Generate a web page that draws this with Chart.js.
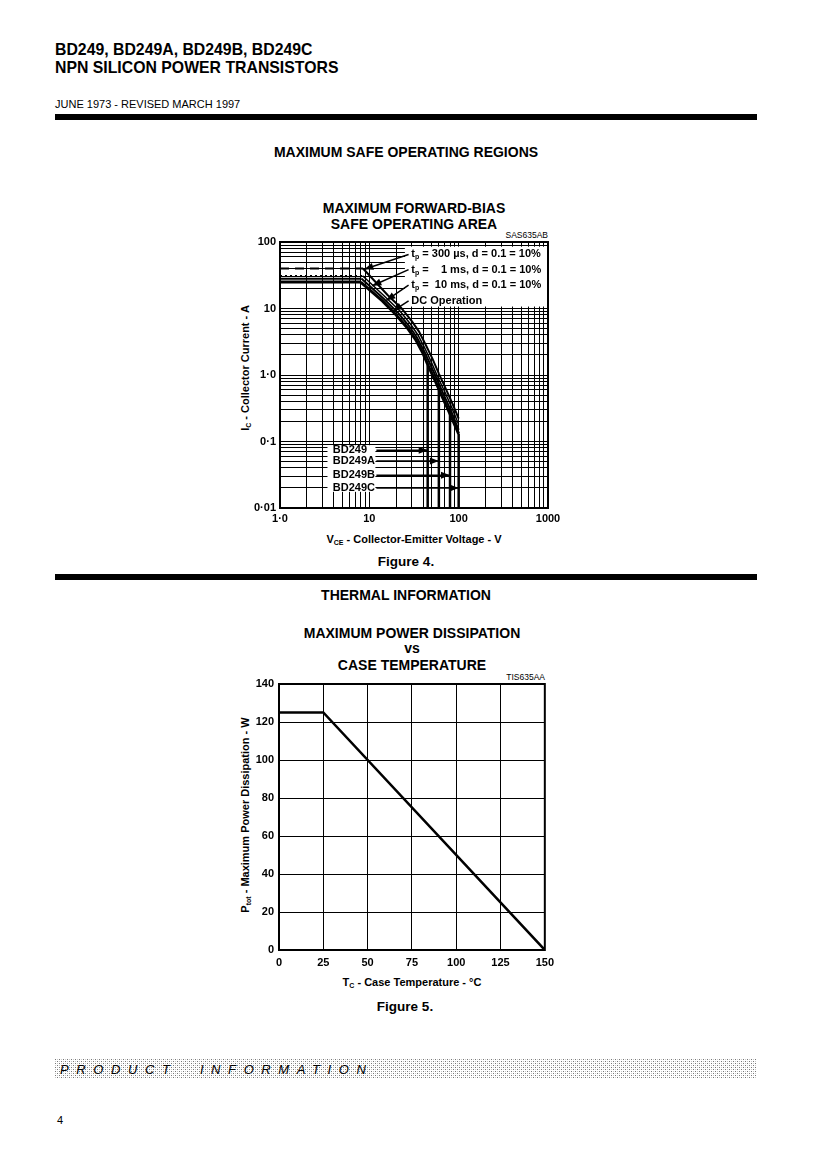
<!DOCTYPE html>
<html>
<head>
<meta charset="utf-8">
<title>BD249 - safe operating area and power dissipation</title>
<script src="https://cdn.jsdelivr.net/npm/chart.js@4.4.0/dist/chart.umd.min.js"></script>
<style>
  body { margin: 0; background: #fff; }
  #page { position: relative; width: 825px; height: 1168px; overflow: hidden;
          font-family: "Liberation Sans", Arial, Helvetica, sans-serif; color: #000; }
  .t { position: absolute; white-space: nowrap; line-height: 1; }
  .b { font-weight: bold; }
  .c { transform: translateX(-50%); }
  .r { transform: translateX(-100%); }
  .head { font-weight: bold; font-size: 17px; left: 55px; transform: scaleX(0.93); transform-origin: 0 0; }
  .bar { position: absolute; left: 55px; width: 702px; height: 6px; background: #000; }
  .yt { transform: translate(-50%, -50%) rotate(-90deg); font-weight: bold; font-size: 11px; }
  sub { font-size: 7px; vertical-align: -2px; line-height: 0; }
  canvas { position: absolute; }
  #prod { position: absolute; left: 55px; top: 1059px; width: 702px; height: 19px;
          background-image: url("data:image/svg+xml,%3Csvg xmlns='http://www.w3.org/2000/svg' width='4' height='4'%3E%3Crect width='1' height='1' fill='%23777'/%3E%3Crect x='2' y='2' width='1' height='1' fill='%23777'/%3E%3Crect x='2' width='1' height='1' fill='%23c8c8c8'/%3E%3Crect y='2' width='1' height='1' fill='%23c8c8c8'/%3E%3C/svg%3E"); }
  #prod span { position: absolute; left: 5px; top: 4px; font-style: italic; font-size: 13px;
               letter-spacing: 7.6px; white-space: pre; line-height: 1; }
</style>
</head>
<body>
<div id="page">
  <div class="t head" style="top:41px;">BD249, BD249A, BD249B, BD249C</div>
  <div class="t head" style="top:59px;">NPN SILICON POWER TRANSISTORS</div>
  <div class="t" style="left:55px;top:99px;font-size:11px;">JUNE 1973 - REVISED MARCH 1997</div>
  <div class="bar" style="top:114px;"></div>

  <div class="t b c" style="left:406px;top:145px;font-size:14px;">MAXIMUM SAFE OPERATING REGIONS</div>
  <div class="t b c" style="left:414px;top:201px;font-size:14px;">MAXIMUM FORWARD-BIAS</div>
  <div class="t b c" style="left:414px;top:217px;font-size:14px;">SAFE OPERATING AREA</div>
  <div class="t r" style="left:548px;top:231px;font-size:8.5px;">SAS635AB</div>
  <div class="t yt" style="left:245px;top:368px;">I<sub>C</sub> - Collector Current - A</div>
  <canvas id="soaChart" width="350" height="305" style="left:220px;top:225px;"></canvas>
  <div class="t b c" style="left:414px;top:534px;font-size:11px;">V<sub>CE</sub> - Collector-Emitter Voltage - V</div>
  <div class="t b c" style="left:406px;top:555px;font-size:13.5px;">Figure 4.</div>

  <div class="bar" style="top:574px;"></div>
  <div class="t b c" style="left:406px;top:588px;font-size:14px;">THERMAL INFORMATION</div>
  <div class="t b c" style="left:412px;top:626px;font-size:14px;">MAXIMUM POWER DISSIPATION</div>
  <div class="t b c" style="left:412px;top:641px;font-size:14px;">vs</div>
  <div class="t b c" style="left:412px;top:658px;font-size:14px;">CASE TEMPERATURE</div>
  <div class="t r" style="left:545px;top:673px;font-size:8.5px;">TIS635AA</div>
  <div class="t yt" style="left:245px;top:815px;">P<sub>tot</sub> - Maximum Power Dissipation - W</div>
  <canvas id="powerChart" width="340" height="300" style="left:220px;top:672px;"></canvas>
  <div class="t b c" style="left:412px;top:977px;font-size:11px;">T<sub>C</sub> - Case Temperature - °C</div>
  <div class="t b c" style="left:405px;top:1000px;font-size:13.5px;">Figure 5.</div>

  <div id="prod"><span>PRODUCT  INFORMATION</span></div>
  <div class="t" style="left:57px;top:1115px;font-size:11px;">4</div>
</div>

<script>
// ---- Figure 4: forward-bias safe operating area ----
var voltDecades = [1, 10, 100, 1000];
var voltTickLabels = ["1·0", "10", "100", "1000"];
var ampDecades = [0.01, 0.1, 1, 10, 100];
var ampTickLabels = ["0·01", "0·1", "1·0", "10", "100"];

var dcVolts = [1, 8, 14, 20, 27, 33, 40, 46, 55, 65, 80, 100];
var dcAmps = [25, 25, 13, 8, 5, 3.4, 2.1, 1.35, 0.8, 0.48, 0.26, 0.13];
var tp10msVolts = [1, 8.2, 14.5, 21, 28, 34, 41, 48, 57, 67, 82, 100];
var tp10msAmps = [28, 28, 14, 8.6, 5.4, 3.7, 2.3, 1.45, 0.87, 0.53, 0.29, 0.15];
var tp1msVolts = [1, 8.4, 15, 22, 29, 35, 42, 49, 58, 69, 84, 100];
var tp1msAmps = [31, 31, 15, 9.2, 5.8, 4.0, 2.5, 1.6, 0.95, 0.58, 0.32, 0.18];
var tp300usVolts = [1, 8.5, 16, 23, 30, 36, 43, 51, 60, 71, 86, 100];
var tp300usAmps = [40, 40, 16, 10, 6.4, 4.5, 2.8, 1.75, 1.05, 0.64, 0.36, 0.22];

// VCEO rating of each type: vertical limit from the DC curve down to the axis
var ratingNames = ["BD249", "BD249A", "BD249B", "BD249C"];
var ratingVolts = [45, 60, 80, 100];
var ratingTopAmps = [1.4, 0.62, 0.28, 0.13];
var ratingLabelAmps = [0.074, 0.051, 0.031, 0.020];

// curve labels and where their arrows point
var pulseTexts = [" = 300 µs, d = 0.1 = 10%", " =    1 ms, d = 0.1 = 10%", " =  10 ms, d = 0.1 = 10%", "DC Operation"];
var pulseLabelAmps = [65, 38.5, 22.5, 13];
var pulseArrowVolts = [8.8, 10.8, 15.5, 18.5];
var pulseArrowAmps = [39, 22, 13.2, 9.2];

// ---- Figure 5: power derating ----
var caseTemp = [0, 25, 150];
var powerMax = [125, 125, 0];

// label placement (in axis units) for the white boxes on figure 4
var pulseBoxVolts = [25, 1000];
var pulseBoxAmps = [85, 10.7];
var pulseTextVolt = 29.5;
var pulseArrowStartVolt = 27.5;
var ratingBoxVolts = [3.4, 12];
var ratingBoxAmps = [0.088, 0.0175];
var ratingTextVolt = 3.9;
var ratingArrowStartVolt = 12;

var fontFamily = '"Liberation Sans", Arial, Helvetica, sans-serif';
var tickFont = { family: fontFamily, size: 11, weight: 'bold' };

function points(xs, ys) {
  return xs.map(function (x, i) { return { x: x, y: ys[i] }; });
}

// every 1..9 line of each decade between lo and hi
function logGrid(lo, hi) {
  var vals = [];
  for (var d = lo; d < hi; d *= 10) {
    for (var k = 1; k < 10; k++) vals.push(+(d * k).toPrecision(3));
  }
  vals.push(hi);
  return vals;
}

function curve(xs, ys, width, flatDash) {
  return {
    data: points(xs, ys),
    borderColor: '#000',
    borderWidth: width,
    pointRadius: 0,
    fill: false,
    tension: 0,
    segment: {
      borderDash: function (c) {
        return c.p0.parsed.y === c.p1.parsed.y ? flatDash : undefined;
      }
    }
  };
}

function arrow(x0, y0, x1, y1) {
  return {
    data: [{ x: x0, y: y0 }, { x: x1, y: y1 }],
    borderColor: '#000',
    borderWidth: 1.5,
    pointRadius: 0,
    arrow: true
  };
}

var soaDatasets = [
  curve(dcVolts, dcAmps, 3, []),
  curve(tp10msVolts, tp10msAmps, 2, []),
  curve(tp1msVolts, tp1msAmps, 1.5, [2, 3]),
  curve(tp300usVolts, tp300usAmps, 2, [9, 6])
];
ratingVolts.forEach(function (v, i) {
  soaDatasets.push({
    data: [{ x: v, y: ratingTopAmps[i] }, { x: v, y: ampDecades[0] }],
    borderColor: '#000', borderWidth: 2.5, pointRadius: 0
  });
  soaDatasets.push(arrow(ratingArrowStartVolt, ratingLabelAmps[i], v, ratingLabelAmps[i]));
});
pulseArrowVolts.forEach(function (v, i) {
  soaDatasets.push(arrow(pulseArrowStartVolt, pulseLabelAmps[i], v, pulseArrowAmps[i]));
});

// draws text with a small lowered "p" after the t where needed
function drawLabel(ctx, x, y, text, withTp) {
  ctx.font = 'bold 11px ' + fontFamily;
  if (withTp) {
    ctx.fillText('t', x, y);
    x += ctx.measureText('t').width;
    ctx.font = 'bold 7px ' + fontFamily;
    ctx.fillText('p', x, y + 3);
    x += ctx.measureText('p').width;
    ctx.font = 'bold 11px ' + fontFamily;
  }
  ctx.fillText(text, x, y);
}

function whiteBox(ctx, xs, ys, vx, vy) {
  var l = xs.getPixelForValue(vx[0]), r = xs.getPixelForValue(vx[1]);
  var t = ys.getPixelForValue(vy[0]), b = ys.getPixelForValue(vy[1]);
  ctx.fillStyle = '#fff';
  ctx.fillRect(l, t, r - l - 1, b - t);
}

var soaLabels = {
  id: 'soaLabels',
  beforeDatasetsDraw: function (chart) {
    var ctx = chart.ctx, xs = chart.scales.x, ys = chart.scales.y;
    ctx.save();
    whiteBox(ctx, xs, ys, pulseBoxVolts, pulseBoxAmps);
    whiteBox(ctx, xs, ys, ratingBoxVolts, ratingBoxAmps);
    ctx.fillStyle = '#000';
    ctx.textBaseline = 'middle';
    pulseTexts.forEach(function (txt, i) {
      drawLabel(ctx, xs.getPixelForValue(pulseTextVolt), ys.getPixelForValue(pulseLabelAmps[i]), txt, i < 3);
    });
    ratingNames.forEach(function (name, i) {
      drawLabel(ctx, xs.getPixelForValue(ratingTextVolt), ys.getPixelForValue(ratingLabelAmps[i]), name, false);
    });
    ctx.restore();
  }
};

var arrowHeads = {
  id: 'arrowHeads',
  afterDatasetsDraw: function (chart) {
    var ctx = chart.ctx;
    ctx.save();
    ctx.fillStyle = '#000';
    chart.data.datasets.forEach(function (ds, i) {
      if (!ds.arrow) return;
      var pts = chart.getDatasetMeta(i).data;
      var a = pts[0], b = pts[1];
      var ang = Math.atan2(b.y - a.y, b.x - a.x);
      var len = 9, half = 3.5;
      ctx.beginPath();
      ctx.moveTo(b.x, b.y);
      ctx.lineTo(b.x - len * Math.cos(ang) + half * Math.sin(ang), b.y - len * Math.sin(ang) - half * Math.cos(ang));
      ctx.lineTo(b.x - len * Math.cos(ang) - half * Math.sin(ang), b.y - len * Math.sin(ang) + half * Math.cos(ang));
      ctx.closePath();
      ctx.fill();
    });
    ctx.restore();
  }
};

var frame = {
  id: 'frame',
  afterDatasetsDraw: function (chart) {
    var a = chart.chartArea, ctx = chart.ctx;
    ctx.save();
    ctx.strokeStyle = '#000';
    ctx.lineWidth = 2;
    ctx.strokeRect(a.left, a.top, a.right - a.left, a.bottom - a.top);
    ctx.restore();
  }
};

function labelFrom(decades, labels) {
  return function (value) {
    var i = decades.indexOf(value);
    return i < 0 ? '' : labels[i];
  };
}

var soaChart = new Chart(document.getElementById('soaChart'), {
  type: 'line',
  data: { datasets: soaDatasets },
  options: {
    responsive: false,
    animation: false,
    events: [],
    layout: { padding: { top: 17, right: 22, bottom: 0, left: 0 } },
    plugins: { legend: { display: false }, tooltip: { enabled: false } },
    scales: {
      x: {
        type: 'logarithmic', min: 1, max: 1000,
        afterFit: function (s) { s.height = 22; },
        afterBuildTicks: function (s) { s.ticks = logGrid(1, 1000).map(function (v) { return { value: v }; }); },
        ticks: { autoSkip: false, maxRotation: 0, padding: 4, font: tickFont, color: '#000',
                 callback: labelFrom(voltDecades, voltTickLabels) },
        grid: { color: '#000', lineWidth: 1, drawTicks: false },
        border: { display: false }
      },
      y: {
        type: 'logarithmic', min: 0.01, max: 100,
        afterFit: function (s) { s.width = 60; },
        afterBuildTicks: function (s) { s.ticks = logGrid(0.01, 100).map(function (v) { return { value: v }; }); },
        ticks: { autoSkip: false, padding: 4, font: tickFont, color: '#000',
                 callback: labelFrom(ampDecades, ampTickLabels) },
        grid: { color: '#000', lineWidth: 1, drawTicks: false },
        border: { display: false }
      }
    }
  },
  plugins: [soaLabels, arrowHeads, frame]
});

var powerChart = new Chart(document.getElementById('powerChart'), {
  type: 'line',
  data: {
    datasets: [{
      data: points(caseTemp, powerMax),
      borderColor: '#000',
      borderWidth: 2.5,
      pointRadius: 0,
      tension: 0
    }]
  },
  options: {
    responsive: false,
    animation: false,
    events: [],
    layout: { padding: { top: 12, right: 15, bottom: 0, left: 0 } },
    plugins: { legend: { display: false }, tooltip: { enabled: false } },
    scales: {
      x: {
        type: 'linear', min: 0, max: 150,
        afterFit: function (s) { s.height = 22; },
        ticks: { stepSize: 25, padding: 6, font: tickFont, color: '#000', maxRotation: 0 },
        grid: { color: '#000', lineWidth: 1, drawTicks: false },
        border: { display: false }
      },
      y: {
        type: 'linear', min: 0, max: 140,
        afterFit: function (s) { s.width = 59; },
        ticks: { stepSize: 20, padding: 5, font: tickFont, color: '#000' },
        grid: { color: '#000', lineWidth: 1, drawTicks: false },
        border: { display: false }
      }
    }
  },
  plugins: [frame]
});
</script>
</body>
</html>
